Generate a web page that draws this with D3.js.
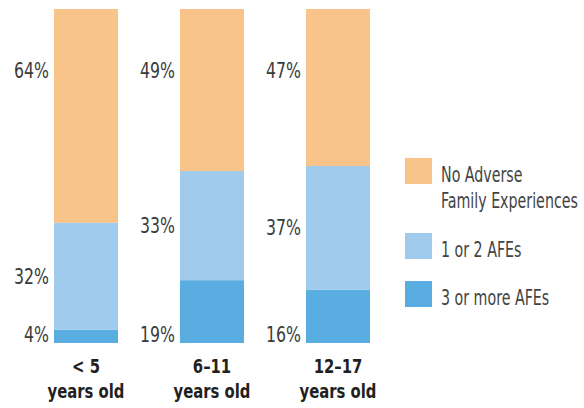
<!DOCTYPE html>
<html><head><meta charset="utf-8">
<script src="https://cdn.jsdelivr.net/npm/d3@7"></script>
<style>
body{margin:0;background:#fff;}
text{font-family:"Liberation Sans Narrow","DejaVu Sans Condensed","DejaVu Sans",sans-serif;font-stretch:condensed;}
</style></head>
<body><svg id="c" width="584" height="408"></svg>
<script>
const categories = ["< 5", "6–11", "12–17"];
const seriesNames = ["No Adverse Family Experiences", "1 or 2 AFEs", "3 or more AFEs"];
const noAFE = [64, 49, 47];
const oneTwoAFE = [32, 33, 37];
const threePlusAFE = [4, 19, 16];

const colors = {"3 or more AFEs":"#5aade0","1 or 2 AFEs":"#a0cbec","No Adverse Family Experiences":"#f9c48a"};

const rows = categories.map((c,i)=>({cat:c,"3 or more AFEs":threePlusAFE[i],"1 or 2 AFEs":oneTwoAFE[i],"No Adverse Family Experiences":noAFE[i]}));
const keys = ["3 or more AFEs","1 or 2 AFEs","No Adverse Family Experiences"];
const stacked = d3.stack().keys(keys).offset(d3.stackOffsetExpand)(rows);

const svg = d3.select("#c");
const x = d3.scaleBand().domain(categories).range([54,370]).paddingInner(62/126).paddingOuter(0);
const y = d3.scaleLinear().domain([0,1]).range([343,9]);

// condense a group of texts horizontally (about each text's anchor x) so that a reference string reaches a target width
function condense(sel, refText, targetW){
  const probe = sel.append("text").text(refText);
  const w = probe.node().getComputedTextLength();
  probe.remove();
  const r = Math.min(1, targetW / w);
  if(r >= 1) return;
  sel.selectAll("text").each(function(){
    const t = d3.select(this);
    const ax = +t.attr("x");
    t.attr("transform", `translate(${ax},0) scale(${r},1) translate(${-ax},0)`);
  });
}

const g = svg.append("g");
stacked.forEach(layer=>{
  g.selectAll(null).data(layer).enter().append("rect")
    .attr("x", d=>x(d.data.cat))
    .attr("width", x.bandwidth())
    .attr("y", d=>y(d[1]))
    .attr("height", d=>y(d[0])-y(d[1]))
    .attr("fill", colors[layer.key]);
});

// value labels
const lbl = svg.append("g").attr("fill","#3a3a3a").attr("font-size",20.5).attr("text-anchor","end");
stacked.forEach((layer,li)=>{
  lbl.selectAll(null).data(layer).enter().append("text")
    .attr("x", d=>x(d.data.cat)-5)
    .attr("y", d=>{
      if(li===0) return y(0)-0.5;
      if(li===1) return (y(d[0])+y(d[1]))/2 + 7.5;
      return y(0.815)+7.5;
    })
    .text(d=>d.data[layer.key]+"%");
});
condense(lbl, "64%", 35);

// category labels
const cl = svg.append("g").attr("fill","#231f20").attr("font-size",19.5).attr("font-weight","bold").attr("text-anchor","middle");
categories.forEach(c=>{
  const cx = x(c)+x.bandwidth()/2;
  cl.append("text").attr("x",cx).attr("y",373).text(c);
  cl.append("text").attr("x",cx).attr("y",398).text("years old");
});
condense(cl, "years old", 77);

// legend
const leg = svg.append("g").attr("font-size",20.5).attr("fill","#444");
const legItems = [
  {key:"No Adverse Family Experiences", lines:["No Adverse","Family Experiences"], y:158},
  {key:"1 or 2 AFEs", lines:["1 or 2 AFEs"], y:233},
  {key:"3 or more AFEs", lines:["3 or more AFEs"], y:281}
];
const legText = leg.append("g");
legItems.forEach(it=>{
  leg.append("rect").attr("x",405).attr("y",it.y).attr("width",27).attr("height",26).attr("fill",colors[it.key]);
  it.lines.forEach((ln,i)=>{
    legText.append("text").attr("x",441).attr("y",it.y+24+i*26).text(ln);
  });
});
condense(legText, "Family Experiences", 137);
</script></body></html>
